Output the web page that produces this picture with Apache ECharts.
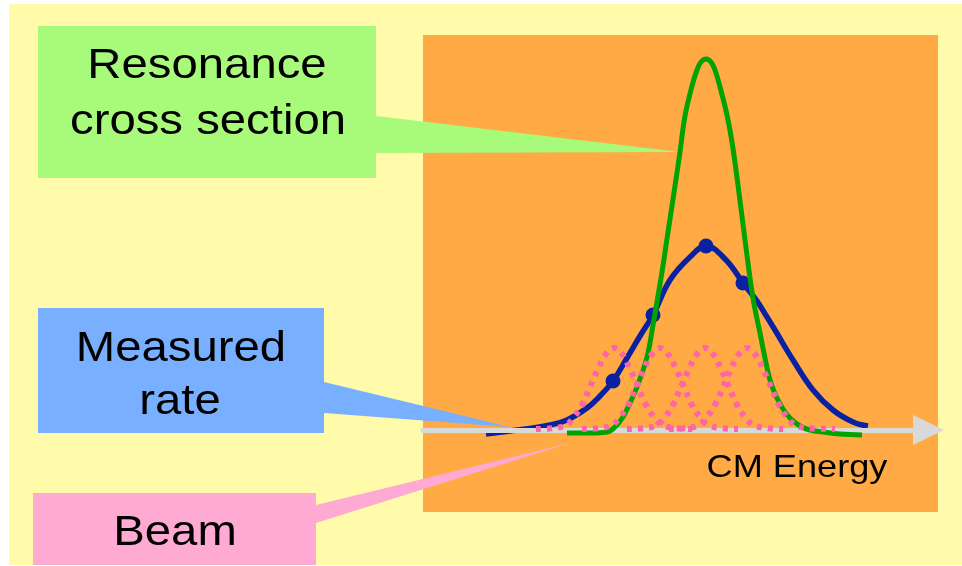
<!DOCTYPE html>
<html><head><meta charset="utf-8">
<script src="https://cdn.jsdelivr.net/npm/echarts@6/dist/echarts.min.js"></script>
<style>html,body{margin:0;padding:0;background:#fff;}#c{width:962px;height:566px;}</style>
</head><body><div id="c"></div>
<script>
// CM energy (arbitrary units) and rates (arbitrary units)
const greenX = [567,590,607,615,623,630,637,647,653,657,662,668,675,680,685,692,697,701,706,711,715,720,727,732,738,745,753,760,765,770,776,783,790,800,810,823,840,862];
const greenY = [-3,-3,-2,3,13,27,43,73,105,128,158,198,244,278,314,344,360,368,371,368,360,343,315,288,245,190,132,97,72,50,34,21,12,4,0,-2,-4,-5];

const blueX = [486,510,533,550,567,587,600,613,627,640,653,670,690,706,726,743,757,767,775,793,813,833,853,868];
const blueY = [-4,-1,2,5,10,22,34,49,72,94,115,150,173,184,170,147,129,113,100,70,40,20,8,4];

const dotX = [613,653,706,743];
const dotY = [49,115,184,147];

const pinkY  = [1,2,5,13,25,43,61,76,82,76,61,43,25,13,5,2,1];
const pink1X = [536,554,566,574,582,590,598,606,614,622,630,638,646,654,662,674,692];
const pink2X = [582,600,612,620,628,636,644,652,660,668,676,684,692,700,708,720,738];
const pink3X = [627,645,657,665,673,681,689,697,705,713,721,729,737,745,753,765,783];
const pink4X = [669,687,699,707,715,723,731,739,747,755,763,771,779,787,795,807,835];

const xMin = 423, xMax = 938, yMin = -82, yMax = 395;

const labelResonance = ['Resonance', 'cross section'];
const labelMeasured = ['Measured', 'rate'];
const labelBeam = 'Beam';
const labelAxis = 'CM Energy';

function pairs(xs, ys) { return xs.map((x, i) => [x, ys[i]]); }

const chart = echarts.init(document.getElementById('c'), null, {renderer: 'canvas'});
const FONT = "'Liberation Sans', Arial, sans-serif";
function txt(s, x, y, size, sx, z) {
  return {type: 'text', x: x, y: y, scaleX: sx, z: z || 10, silent: true,
    style: {text: s, fontSize: size, fontFamily: FONT, fill: '#000', align: 'center', verticalAlign: 'middle'}};
}
const pinkStyle = {color: '#FF63A8', width: 6, type: [5, 6], cap: 'butt'};
function pinkSeries(xs) {
  return {type: 'line', data: pairs(xs, pinkY), smooth: 0.4, symbol: 'none', z: 6,
    lineStyle: pinkStyle, itemStyle: {color: '#FF63A8'}, silent: true};
}

chart.setOption({
  animation: false,
  grid: {left: 423, top: 35, width: 515, height: 477, show: true, backgroundColor: '#FFAA44', borderWidth: 0},
  xAxis: {type: 'value', min: xMin, max: xMax, z: 3,
    axisLine: {show: true, onZero: true, symbol: ['none', 'triangle'], symbolSize: [30, 31], symbolOffset: [0, -9.5],
      lineStyle: {color: '#D9D9D9', width: 5}},
    axisTick: {show: false}, axisLabel: {show: false}, splitLine: {show: false}},
  yAxis: {type: 'value', min: yMin, max: yMax, show: false, splitLine: {show: false}},
  series: [
    {type: 'line', data: pairs(blueX, blueY), smooth: 0.4, symbol: 'none', z: 2,
      lineStyle: {color: '#0A22A2', width: 5.5}, itemStyle: {color: '#0A22A2'}, silent: true},
    {type: 'scatter', data: pairs(dotX, dotY), symbol: 'circle', symbolSize: 15, z: 2,
      itemStyle: {color: '#0A22A2', opacity: 1}, silent: true},
    {type: 'line', data: pairs(greenX, greenY), smooth: 0.4, symbol: 'none', z: 4,
      lineStyle: {color: '#00A300', width: 5}, itemStyle: {color: '#00A300'}, silent: true},
    pinkSeries(pink1X), pinkSeries(pink2X), pinkSeries(pink3X), pinkSeries(pink4X)
  ],
  graphic: {elements: [
    {type: 'rect', z: -10, silent: true, shape: {x: 9, y: 4, width: 953, height: 561}, style: {fill: '#FFFBAA'}},
    {type: 'polygon', z: 1, silent: true,
      shape: {points: [[38,26],[376,26],[376,116],[680,152],[376,153],[376,178],[38,178]]}, style: {fill: '#A8FA7A'}},
    {type: 'polygon', z: 1, silent: true,
      shape: {points: [[38,308],[324,308],[324,382],[510,427],[324,413],[324,433],[38,433]]}, style: {fill: '#78AFFF'}},
    {type: 'polygon', z: 1, silent: true,
      shape: {points: [[33,493],[316,493],[316,505],[570,443],[316,523],[316,565],[33,565]]}, style: {fill: '#FFAAD2'}},
    txt(labelResonance[0], 207, 66, 43, 1.1),
    txt(labelResonance[1], 208, 122, 43, 1.1),
    txt(labelMeasured[0], 181, 349, 43, 1.1),
    txt(labelMeasured[1], 180, 402, 43, 1.1),
    txt(labelBeam, 175, 533, 43, 1.1),
    txt(labelAxis, 797, 468, 32, 1.13)
  ]}
});
</script></body></html>
